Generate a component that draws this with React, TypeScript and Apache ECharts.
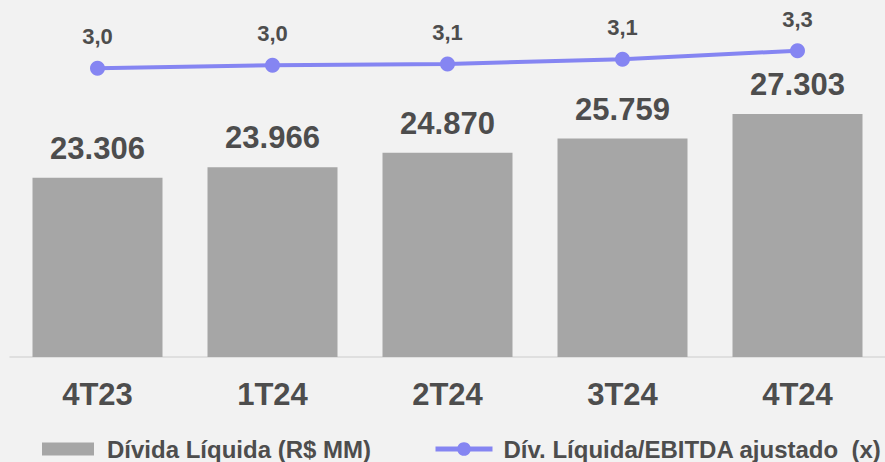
import React, { useEffect, useRef } from "react";
import * as echarts from "echarts";

const categories = ["4T23", "1T24", "2T24", "3T24", "4T24"];
const netDebt = [23306, 23966, 24870, 25759, 27303];
const leverage = [2.975, 3.03, 3.055, 3.14, 3.295];
const barName = "Dívida Líquida (R$ MM)";
const lineName = "Dív. Líquida/EBITDA ajustado  (x)";

const FONT = "'Liberation Sans', Arial, sans-serif";
const TEXT = "#4D4D4D";
const BAR = "#A6A6A6";
const LINE = "#8585F2";

const fmtThousands = (v: number) =>
  String(v).replace(/\B(?=(\d{3})+(?!\d))/g, ".");
const fmtDec = (v: number) => v.toFixed(1).replace(".", ",");

export default function App() {
  const ref = useRef<HTMLDivElement>(null);
  useEffect(() => {
    if (!ref.current) return;
    const chart = echarts.init(ref.current, undefined, { renderer: "svg" });
    chart.setOption({
      animation: false,
      backgroundColor: "#F2F2F2",
      textStyle: { fontFamily: FONT },
      grid: { left: 10, width: 882, top: 20, bottom: 105, containLabel: false },
      legend: [
        {
          data: [barName],
          left: 42,
          top: 437,
          padding: 0,
          itemWidth: 52,
          itemHeight: 13,
          icon: "rect",
          textStyle: {
            color: TEXT,
            fontSize: 24,
            fontWeight: "bold",
            fontFamily: FONT,
            padding: [0, 0, 0, 8],
          },
        },
        {
          data: [lineName],
          left: 433,
          top: 437,
          padding: 0,
          itemWidth: 57,
          itemHeight: 17,
          lineStyle: { width: 5, color: LINE },
          itemStyle: { color: LINE },
          textStyle: {
            color: TEXT,
            fontSize: 24,
            fontWeight: "bold",
            fontFamily: FONT,
            padding: [0, 0, 0, 6],
          },
        },
      ],
      xAxis: {
        type: "category",
        data: categories,
        axisLine: { show: true, onZero: false, lineStyle: { color: "#D9D9D9", width: 1.5 } },
        axisTick: { show: false },
        axisLabel: {
          color: TEXT,
          fontSize: 31,
          fontWeight: "bold",
          fontFamily: FONT,
          margin: 22,
        },
      },
      yAxis: [
        { type: "value", min: 12050, max: 33200, show: false, splitLine: { show: false } },
        { type: "value", min: -2.274, max: 3.853, show: false, splitLine: { show: false } },
      ],
      series: [
        {
          name: barName,
          type: "bar",
          data: netDebt,
          barWidth: 130,
          itemStyle: { color: BAR },
          label: {
            show: true,
            position: "top",
            distance: 14,
            color: TEXT,
            fontSize: 31,
            fontWeight: "bold",
            fontFamily: FONT,
            formatter: (p: any) => fmtThousands(p.value),
          },
        },
        {
          name: lineName,
          type: "line",
          yAxisIndex: 1,
          data: leverage,
          symbol: "circle",
          symbolSize: 15,
          z: 5,
          lineStyle: { color: LINE, width: 4 },
          itemStyle: { color: LINE },
          label: {
            show: true,
            position: "top",
            distance: 13,
            color: TEXT,
            fontSize: 22,
            fontWeight: "bold",
            fontFamily: FONT,
            formatter: (p: any) => fmtDec(p.value),
          },
        },
      ],
    });
    return () => chart.dispose();
  }, []);
  return (
    <div
      ref={ref}
      style={{ position: "fixed", left: 0, top: 0, width: 885, height: 462 }}
    />
  );
}
